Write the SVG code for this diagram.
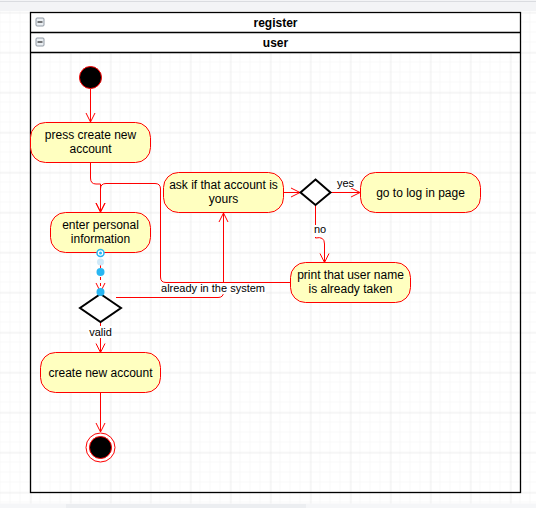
<svg xmlns="http://www.w3.org/2000/svg" width="536" height="508" viewBox="0 0 536 508">
<defs>
<pattern id="minor" x="0.5" y="2.5" width="10" height="10" patternUnits="userSpaceOnUse">
<path d="M10 0V10M0 10H10" fill="none" stroke="#f2f2f2" stroke-width="1"/>
</pattern>
<pattern id="major" x="30.5" y="12.5" width="40" height="40" patternUnits="userSpaceOnUse">
<path d="M0 0V40M0 0H40" fill="none" stroke="#e3e3e3" stroke-width="1"/>
</pattern>
<marker id="arr" markerWidth="12" markerHeight="12" refX="10" refY="6" orient="auto" markerUnits="userSpaceOnUse">
<path d="M1 1.5L10 6L1 10.5" fill="none" stroke="#ff0000" stroke-width="1"/>
</marker>
</defs>
<style>
.act{fill:#ffffc0;stroke:#ff0000;stroke-width:1}
.t{font-family:"Liberation Sans",Arial,sans-serif;font-size:12px;fill:#000;text-anchor:middle}
.lbl{font-family:"Liberation Sans",Arial,sans-serif;font-size:11px;fill:#000;text-anchor:middle}
.hd{font-family:"Liberation Sans",Arial,sans-serif;font-size:12px;font-weight:bold;fill:#000;text-anchor:middle}
.e{fill:none;stroke:#ff0000;stroke-width:1}
.dia{fill:#fff;stroke:#000;stroke-width:2}
.pool{fill:none;stroke:#000;stroke-width:1.3}
.ic{fill:#eaeef2;stroke:#7a8490;stroke-width:0.8}
</style>
<rect width="536" height="508" fill="#fff"/>
<rect width="536" height="508" fill="url(#minor)"/>
<rect width="536" height="508" fill="url(#major)"/>
<rect x="0" y="0" width="536" height="11" fill="#f3f4f6"/>
<line x1="0" y1="1.5" x2="536" y2="1.5" stroke="#dadce0"/>
<rect x="0" y="503.5" width="536" height="4.5" fill="#f5f6f8"/>
<rect x="66" y="504" width="240" height="4" fill="#eceef1"/>

<g id="pool">
<rect x="30.5" y="12.5" width="490" height="20" fill="#fff"/>
<rect x="30.5" y="32.5" width="490" height="20" fill="#fff"/>
<rect class="pool" x="30.5" y="12.5" width="490" height="480"/>
<line class="pool" x1="30.5" y1="32.5" x2="520.5" y2="32.5"/>
<line class="pool" x1="30.5" y1="52.5" x2="520.5" y2="52.5"/>
<rect class="ic" x="36" y="18" width="8" height="8" rx="1"/>
<line x1="37.5" y1="22" x2="42.5" y2="22" stroke="#000" stroke-width="1"/>
<rect class="ic" x="36" y="38" width="8" height="8" rx="1"/>
<line x1="37.5" y1="42" x2="42.5" y2="42" stroke="#000" stroke-width="1"/>
<text class="hd" x="275.5" y="27">register</text>
<text class="hd" x="275.5" y="47">user</text>
</g>

<g id="connectors">
<path class="e" d="M90.5 89V122" marker-end="url(#arr)"/>
<path class="e" d="M90.5 162.5V178Q90.5 184 96 184H100.5V212" marker-end="url(#arr)"/>
<path class="e" d="M290.5 282.5H166Q160.5 282.5 160.5 277V189Q160.5 183.5 155 183.5H106Q100.5 183.5 100.5 189V212" marker-end="url(#arr)"/>
<path class="e" d="M100.5 253V292" stroke-dasharray="3,3" marker-end="url(#arr)"/>
<path class="e" d="M116 297.5H218Q223.5 297.5 223.5 292V213" marker-end="url(#arr)"/>
<path class="e" d="M283.5 192.5H300" marker-end="url(#arr)"/>
<path class="e" d="M330.5 192.5H360" marker-end="url(#arr)"/>
<path class="e" d="M315.5 205V238Q324.5 236 324.5 244V262.5" marker-end="url(#arr)"/>
<path class="e" d="M100.5 322V352.5" marker-end="url(#arr)"/>
<path class="e" d="M100.5 392.5V432" marker-end="url(#arr)"/>
<rect x="160" y="283" width="106" height="11" fill="#fff"/>
<text class="lbl" x="213" y="292">already in the system</text>
<rect x="338" y="177" width="18" height="11" fill="#fff"/>
<text class="lbl" x="345.5" y="186.5">yes</text>
<rect x="312" y="225" width="16" height="12" fill="#fff"/>
<text class="lbl" x="320" y="233">no</text>
<rect x="88" y="326" width="24" height="12" fill="#fff"/>
<text class="lbl" x="100.5" y="336">valid</text>
</g>

<g id="start">
<circle cx="90.5" cy="77.5" r="11" fill="#000" stroke="#ff0000" stroke-width="1"/>
</g>
<g id="press">
<rect class="act" x="30.5" y="122.5" width="120" height="40" rx="15"/>
<text class="t" x="90.5" y="139">press create new</text>
<text class="t" x="90.5" y="153">account</text>
</g>
<g id="enter">
<rect class="act" x="50.5" y="212.5" width="100" height="40" rx="15"/>
<text class="t" x="100.5" y="229">enter personal</text>
<text class="t" x="100.5" y="243">information</text>
</g>
<g id="valid-decision">
<path class="dia" d="M100.5 294L121 308L100.5 322L80 308Z"/>
</g>
<g id="create">
<rect class="act" x="40.5" y="352.5" width="120" height="40" rx="15"/>
<text class="t" x="100.5" y="377">create new account</text>
</g>
<g id="end">
<circle cx="100.5" cy="447.5" r="14.5" fill="#fff" stroke="#ff0000" stroke-width="1"/>
<circle cx="100.5" cy="447.5" r="11" fill="#000" stroke="#ff0000" stroke-width="1"/>
</g>
<g id="ask">
<rect class="act" x="163.5" y="172.5" width="120" height="40" rx="15"/>
<text class="t" x="223.5" y="189">ask if that account is</text>
<text class="t" x="223.5" y="203">yours</text>
</g>
<g id="account-decision">
<path class="dia" d="M315.5 179.5L330.5 192.5L315.5 205L300.5 192.5Z"/>
</g>
<g id="login">
<rect class="act" x="360.5" y="172.5" width="120" height="40" rx="15"/>
<text class="t" x="420.5" y="197">go to log in page</text>
</g>
<g id="print">
<rect class="act" x="290.5" y="262.5" width="120" height="40" rx="15"/>
<text class="t" x="350.5" y="279">print that user name</text>
<text class="t" x="350.5" y="293">is already taken</text>
</g>
<g id="selection-handles">
<circle cx="100.5" cy="253" r="3.5" fill="#fff" stroke="#29b6f2" stroke-width="1.5"/>
<circle cx="100.5" cy="253" r="1.5" fill="#29b6f2"/>
<circle cx="100.5" cy="262" r="3.5" fill="#cfe9f8"/>
<circle cx="100.5" cy="272" r="4" fill="#29b6f2"/>
<circle cx="100.5" cy="292" r="4" fill="#29b6f2"/>
</g>
</svg>
